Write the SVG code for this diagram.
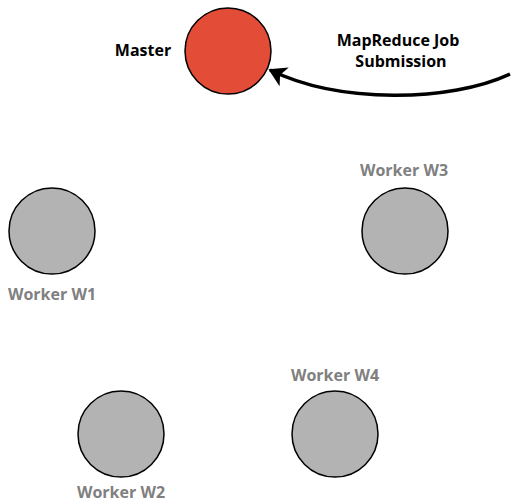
<svg xmlns="http://www.w3.org/2000/svg" width="514" height="504" viewBox="0 0 514 504">
<style>
.lbl{font-family:"Open Sans","Liberation Sans",sans-serif;font-weight:bold;font-size:16px;text-anchor:middle}
.dark{fill:#000}
.gray{fill:#808080}
.worker{fill:#b3b3b3;stroke:#000;stroke-width:1.5}
.master{fill:#e34c36;stroke:#000;stroke-width:1.5}
</style>
<defs>
<marker id="arr" markerWidth="6" markerHeight="6" refX="4.5" refY="3" orient="auto" markerUnits="strokeWidth">
<path d="M0,0 L5,3 L0,6 L1.3,3 Z" fill="#000"/>
</marker>
</defs>
<rect width="514" height="504" fill="#fff"/>
<g id="connectors">
<path d="M510,74 C450,102 340,104 270,70" fill="none" stroke="#000" stroke-width="3.5" marker-end="url(#arr)"/>
</g>
<g id="master"><circle class="master" cx="228" cy="51" r="43"/><text class="lbl dark" x="143" y="56">Master</text></g>
<g id="w1"><circle class="worker" cx="52" cy="231" r="43"/><text class="lbl gray" x="52" y="300">Worker W1</text></g>
<g id="w3"><circle class="worker" cx="405" cy="231" r="43"/><text class="lbl gray" x="404" y="176">Worker W3</text></g>
<g id="w2"><circle class="worker" cx="121" cy="434" r="43"/><text class="lbl gray" x="121" y="498">Worker W2</text></g>
<g id="w4"><circle class="worker" cx="335" cy="434" r="43"/><text class="lbl gray" x="335" y="381">Worker W4</text></g>
<g id="job"><text class="lbl dark" x="398" y="46">MapReduce Job</text><text class="lbl dark" x="401" y="67">Submission</text></g>
</svg>
